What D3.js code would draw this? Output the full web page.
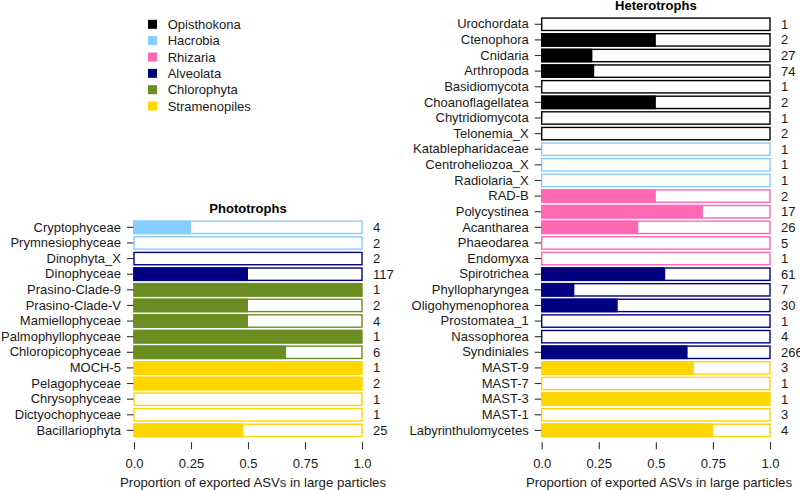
<!DOCTYPE html>
<html>
<head>
<meta charset="utf-8">
<script src="https://cdn.jsdelivr.net/npm/d3@7"></script>
<style>
  body { margin: 0; background: #fff; }
  svg { font-family: "Liberation Sans", Arial, sans-serif; }
  .axis text { font-family: "Liberation Sans", Arial, sans-serif; font-size: 13px; fill: #1a1a1a; }
  .axis line { stroke: #333; stroke-width: 1.1px; }
  .axis .domain { display: none; }
</style>
</head>
<body>
<svg></svg>
<script>
var width = 800;
var height = 490;

// taxonomic groups and their colours (legend order)
var groups = ["Opisthokona", "Hacrobia", "Rhizaria", "Alveolata", "Chlorophyta", "Stramenopiles"];
var group_colors = ["#000000", "#87cefa", "#ff69b4", "#000080", "#6b8e23", "#ffd700"];

// phototrophs
var photo_names = ["Cryptophyceae", "Prymnesiophyceae", "Dinophyta_X", "Dinophyceae", "Prasino-Clade-9",
    "Prasino-Clade-V", "Mamiellophyceae", "Palmophyllophyceae", "Chloropicophyceae", "MOCH-5",
    "Pelagophyceae", "Chrysophyceae", "Dictyochophyceae", "Bacillariophyta"];
var photo_groups = ["Hacrobia", "Hacrobia", "Alveolata", "Alveolata", "Chlorophyta",
    "Chlorophyta", "Chlorophyta", "Chlorophyta", "Chlorophyta", "Stramenopiles",
    "Stramenopiles", "Stramenopiles", "Stramenopiles", "Stramenopiles"];
var photo_values = [0.25, 0, 0, 0.5, 1, 0.5, 0.5, 1, 0.667, 1, 1, 0, 0, 0.48];
var photo_counts = [4, 2, 2, 117, 1, 2, 4, 1, 6, 1, 2, 1, 1, 25];

// heterotrophs
var hetero_names = ["Urochordata", "Ctenophora", "Cnidaria", "Arthropoda", "Basidiomycota",
    "Choanoflagellatea", "Chytridiomycota", "Telonemia_X", "Katablepharidaceae", "Centroheliozoa_X",
    "Radiolaria_X", "RAD-B", "Polycystinea", "Acantharea", "Phaeodarea", "Endomyxa",
    "Spirotrichea", "Phyllopharyngea", "Oligohymenophorea", "Prostomatea_1", "Nassophorea",
    "Syndiniales", "MAST-9", "MAST-7", "MAST-3", "MAST-1", "Labyrinthulomycetes"];
var hetero_groups = ["Opisthokona", "Opisthokona", "Opisthokona", "Opisthokona", "Opisthokona",
    "Opisthokona", "Opisthokona", "Opisthokona", "Hacrobia", "Hacrobia",
    "Hacrobia", "Rhizaria", "Rhizaria", "Rhizaria", "Rhizaria", "Rhizaria",
    "Alveolata", "Alveolata", "Alveolata", "Alveolata", "Alveolata",
    "Alveolata", "Stramenopiles", "Stramenopiles", "Stramenopiles", "Stramenopiles", "Stramenopiles"];
var hetero_values = [0, 0.5, 0.222, 0.23, 0, 0.5, 0, 0, 0, 0,
    0, 0.5, 0.706, 0.423, 0, 0, 0.541, 0.143, 0.333, 0, 0,
    0.639, 0.667, 0, 1, 0, 0.75];
var hetero_counts = [1, 2, 27, 74, 1, 2, 1, 2, 1, 1,
    1, 2, 17, 26, 5, 1, 61, 7, 30, 1, 4,
    266, 3, 1, 1, 3, 4];

var x_ticks = [0, 0.25, 0.5, 0.75, 1];
var x_tick_labels = ["0.0", "0.25", "0.5", "0.75", "1.0"];

var color = d3.scaleOrdinal().domain(groups).range(group_colors);

var svg = d3.select("svg")
    .attr("width", width)
    .attr("height", height);

var row_step = 15.62;
var panel_bottom = 438.2;

function draw_panel(title, names, grp, vals, counts, x0, x1, title_x) {
    var rows = names.map(function(n, i) {
        return { name: n, group: grp[i], value: vals[i], n: counts[i] };
    });

    var x = d3.scaleLinear().domain([0, 1]).range([x0, x1]);
    var y = d3.scaleBand()
        .domain(names)
        .range([panel_bottom - names.length * row_step, panel_bottom])
        .paddingInner(0.12)
        .paddingOuter(0.06);

    var g = svg.append("g");

    // outline of the full bar
    g.selectAll(".bg")
        .data(rows)
      .enter().append("rect")
        .attr("class", "bg")
        .attr("x", x(0))
        .attr("y", function(d) { return y(d.name) + 0.7; })
        .attr("width", x(1) - x(0))
        .attr("height", y.bandwidth() - 1.4)
        .attr("fill", "#fff")
        .attr("stroke", function(d) { return color(d.group); })
        .attr("stroke-width", 1.4);

    // exported proportion
    g.selectAll(".fg")
        .data(rows.filter(function(d) { return d.value > 0; }))
      .enter().append("rect")
        .attr("class", "fg")
        .attr("x", x(0) - 0.7)
        .attr("y", function(d) { return y(d.name); })
        .attr("width", function(d) { return x(d.value) - x(0) + 0.7; })
        .attr("height", y.bandwidth())
        .attr("fill", function(d) { return color(d.group); });

    // counts on the right
    g.selectAll(".cnt")
        .data(rows)
      .enter().append("text")
        .attr("class", "cnt")
        .attr("x", x(1) + 11)
        .attr("y", function(d) { return y(d.name) + y.bandwidth() / 2; })
        .attr("dy", "0.35em")
        .style("font-size", "13px")
        .style("fill", "#1a1a1a")
        .text(function(d) { return d.n; });

    // y axis
    g.append("g")
        .attr("class", "axis")
        .attr("transform", "translate(" + (x(0) - 0.5) + ",0)")
        .call(d3.axisLeft(y).tickSize(6.5).tickPadding(6));

    // x axis
    g.append("g")
        .attr("class", "axis")
        .attr("transform", "translate(0," + (panel_bottom + 4) + ")")
        .call(d3.axisBottom(x).tickValues(x_ticks)
            .tickFormat(function(d, i) { return x_tick_labels[i]; })
            .tickSize(7).tickPadding(10));

    g.append("text")
        .attr("x", title_x)
        .attr("y", 486.5)
        .attr("text-anchor", "middle")
        .style("font-size", "13.2px")
        .style("fill", "#1a1a1a")
        .text("Proportion of exported ASVs in large particles");

    g.append("text")
        .attr("x", (x0 + x1) / 2)
        .attr("y", y.range()[0] - 6.5)
        .attr("text-anchor", "middle")
        .style("font-size", "13px")
        .style("font-weight", "bold")
        .style("fill", "#000")
        .text(title);
}

draw_panel("Phototrophs", photo_names, photo_groups, photo_values, photo_counts, 134, 362, 253);
draw_panel("Heterotrophs", hetero_names, hetero_groups, hetero_values, hetero_counts, 541.7, 770, 659);

// legend
var legend = svg.append("g").attr("transform", "translate(148,24.3)");
var item = legend.selectAll(".item")
    .data(groups)
  .enter().append("g")
    .attr("transform", function(d, i) { return "translate(0," + (i * 16.35) + ")"; });

item.append("rect")
    .attr("x", 0)
    .attr("y", -4.5)
    .attr("width", 9)
    .attr("height", 9)
    .attr("fill", function(d) { return color(d); });

item.append("text")
    .attr("x", 19.7)
    .attr("dy", "0.35em")
    .style("font-size", "13px")
    .style("fill", "#1a1a1a")
    .text(function(d) { return d; });
</script>
</body>
</html>
